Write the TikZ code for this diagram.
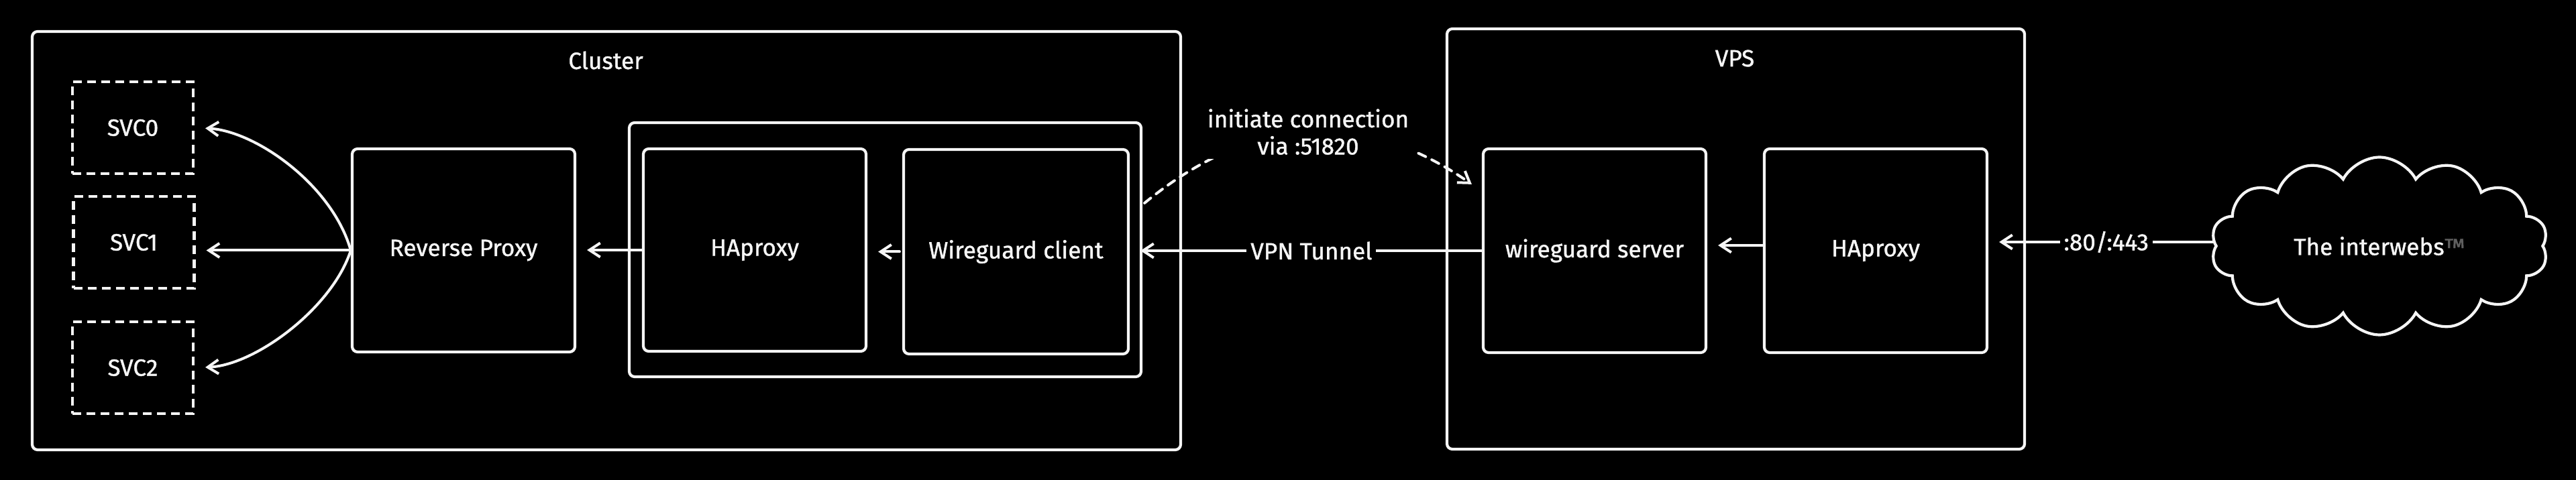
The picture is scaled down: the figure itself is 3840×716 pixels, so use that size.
\documentclass[tikz,border=0pt]{standalone}
\usepackage{fontspec}
\setmainfont{Fira Sans}[FakeBold=1.2]
\usetikzlibrary{arrows.meta,shapes.symbols}
\definecolor{fg}{RGB}{245,245,245}
\definecolor{tmgray}{RGB}{95,95,95}
\begin{document}
\begin{tikzpicture}[x=0.1mm,y=-0.1mm,
  every node/.style={text=fg, font=\fontsize{10}{11.5}\selectfont},
  box/.style={draw=fg, line width=0.42mm, rounded corners=0.8mm, inner sep=0pt},
  svcbox/.style={draw=fg, line width=0.42mm, dash pattern=on 1.3mm off 0.8mm, inner sep=0pt, minimum width=18mm, minimum height=13.7mm},
  conn/.style={draw=fg, line width=0.4mm, line cap=round, -{Straight Barb[length=1.6mm,width=2.1mm]}, shorten >=1.6mm},
  lbl/.style={fill=black, inner sep=0.6mm},
]
\fill[black] (0,0) rectangle (3840,716);
\useasboundingbox (0,0) rectangle (3840,716);

% containers
\node[box, minimum width=171.2mm, minimum height=62.4mm] (cluster) at (904,359) {};
\node (clusterlbl) at (903,90) {Cluster};
\node[box, minimum width=86.1mm, minimum height=62.7mm] (vps) at (2587.5,356.5) {};
\node (vpslbl) at (2586,87) {VPS};
\node[box, minimum width=76.3mm, minimum height=37.9mm] (group) at (1319.5,372.5) {};

% boxes
\node[box, minimum width=33.2mm, minimum height=30.3mm] (rp) at (691,373.5) {Reverse Proxy};
\node[box, minimum width=33.2mm, minimum height=30.2mm] (ha1) at (1125,373) {HAproxy};
\node[box, minimum width=33.5mm, minimum height=30.5mm] (wgc) at (1514.5,375.5) {Wireguard client};
\node[box, minimum width=33.2mm, minimum height=30.4mm] (wgs) at (2377,374) {wireguard server};
\node[box, minimum width=33.2mm, minimum height=30.4mm] (ha2) at (2796,374) {HAproxy};

\node[svcbox] (svc0) at (198,190.5) {SVC0};
\node[svcbox] (svc1) at (199.5,361.5) {SVC1};
\node[svcbox] (svc2) at (198,548.5) {SVC2};

\node[cloud, cloud puffs=14, cloud puff arc=125, cloud ignores aspect, draw=fg, line width=0.42mm,
      minimum width=50.2mm, minimum height=26.5mm, inner sep=0pt] (net) at (3547,367) {The interwebs{\color{tmgray}™}};

% connectors
\draw[conn] (rp.west) .. controls (495,275) and (380,195) .. (svc0.east);
\draw[conn] (rp.west) -- (rp.west -| svc1.east);
\draw[conn] (rp.west) .. controls (495,460) and (380,545) .. (svc2.east);

\draw[conn] (ha1.west) -- (ha1.west -| rp.east);
\draw[conn] ([xshift=-0.4mm]wgc.west) -- (wgc.west -| ha1.east);

\draw[conn] (wgs.west) -- node[lbl, pos=0.484] (vpnlbl) {VPN Tunnel} (wgs.west -| wgc.east);

\draw[conn] ([yshift=0.8mm]ha2.west) -- ([yshift=0.8mm]ha2.west -| wgs.east);

\draw[conn] ([yshift=0.6mm]net.west) -- node[lbl, pos=0.479] (portlbl) {:80/:443} ([yshift=0.6mm]net.west -| ha2.east);

\draw[conn, shorten >=0pt, dash pattern=on 1.2mm off 1mm]
  ([yshift=-12.2mm, xshift=0.3mm]group.north east) .. controls (1868,170) and (2032,162) ..
  node[lbl, pos=0.5, align=center, inner xsep=0.8mm] (initlbl) {initiate connection\\via :51820}
  ([xshift=-1.5mm,yshift=-5.5mm]wgs.north west);
\end{tikzpicture}
\end{document}
